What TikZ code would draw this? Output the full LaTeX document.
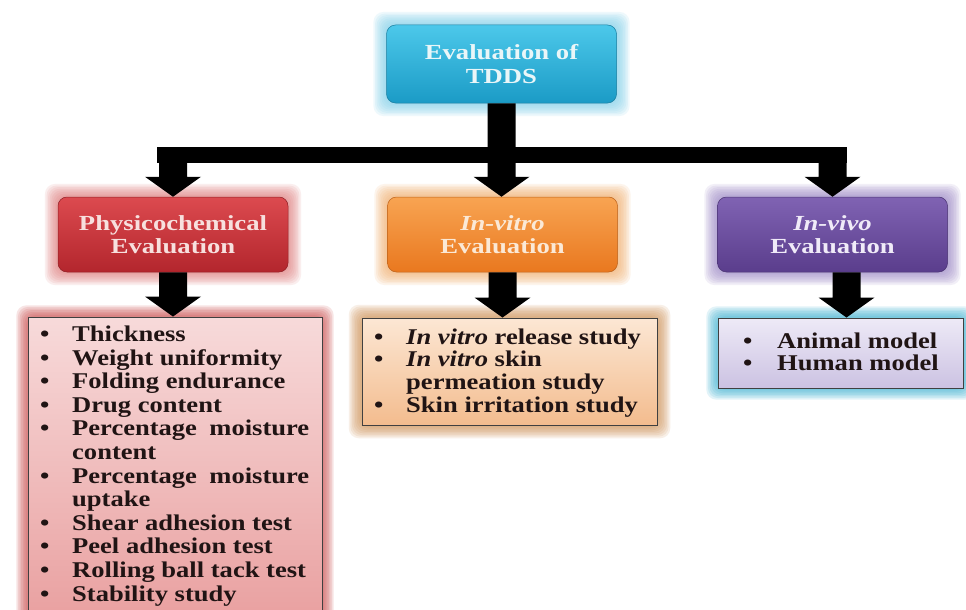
\documentclass[tikz,border=0pt]{standalone}
\usepackage{fontspec}
\setmainfont{Liberation Serif}
\newfontfamily\hfont[FakeStretch=1.24]{Liberation Serif}
\newfontfamily\lfont[FakeStretch=1.18]{Liberation Serif}
\usetikzlibrary{calc}
\pgfdeclarelayer{bgwhite}
\pgfdeclarelayer{glowlayer}
\pgfsetlayers{bgwhite,glowlayer,main}

\definecolor{cyanT}{HTML}{4CC8EA}
\definecolor{cyanB}{HTML}{1B9BC6}
\definecolor{cyanG}{HTML}{7FD0EA}
\definecolor{cyanX}{HTML}{EAF6F8}
\definecolor{redT}{HTML}{DC4A4F}
\definecolor{redB}{HTML}{B3262D}
\definecolor{redG}{HTML}{E07C7C}
\definecolor{redX}{HTML}{F7E0DE}
\definecolor{oraT}{HTML}{F8A452}
\definecolor{oraB}{HTML}{E9781F}
\definecolor{oraG}{HTML}{F2AE6C}
\definecolor{oraX}{HTML}{FBE9D6}
\definecolor{purT}{HTML}{8063B3}
\definecolor{purB}{HTML}{5A3D8C}
\definecolor{purG}{HTML}{9C86C6}
\definecolor{purX}{HTML}{F0EBF8}
\definecolor{l1T}{HTML}{F7DADA}
\definecolor{l1B}{HTML}{E9A0A0}
\definecolor{l1G}{HTML}{CC4E4E}
\definecolor{l2T}{HTML}{FCE7D4}
\definecolor{l2B}{HTML}{F3BC8E}
\definecolor{l2G}{HTML}{D0945A}
\definecolor{l3T}{HTML}{EEEAF7}
\definecolor{l3B}{HTML}{CBC2E2}
\definecolor{l3G}{HTML}{3FB2D2}
\definecolor{listtext}{HTML}{201414}

\tikzset{
  hbox/.style={rounded corners=9pt, minimum width=230pt, minimum height=75pt,
    align=center, inner sep=0pt,
    font=\hfont\bfseries\fontsize{21.5}{23}\selectfont},
  lbox/.style={draw=black!75, line width=0.9pt, inner sep=0pt},
  li/.style={anchor=base west, inner sep=0pt, text=listtext,
    font=\lfont\bfseries\fontsize{22.5}{23}\selectfont},
  arrowfill/.style={fill=black},
}

\newcommand\glow[4]{%
  \begin{pgfonlayer}{glowlayer}
  \foreach \k in {1,...,#3}{
    \fill[#2, opacity=#4, rounded corners=10pt]
      ($(#1.south west)+(-\k*1.6,\k*1.6)$) rectangle ($(#1.north east)+(\k*1.6,-\k*1.6)$);
  }
  \end{pgfonlayer}}

\newcommand\barrow[2]{%
  \fill[arrowfill] let \p1=(#1), \p2=(#2) in
    (\x1-14pt,\y1) -- (\x1+14pt,\y1) -- (\x1+14pt,\y2+20pt) -- (\x1+28pt,\y2+20pt)
    -- (\x1,\y2) -- (\x1-28pt,\y2+20pt) -- (\x1-14pt,\y2+20pt) -- cycle;}

\newcommand\litem[4]{\node[li] (#1) at (#2,#3) {#4};}

\begin{document}
\begin{tikzpicture}[x=1pt,y=-1pt]
\useasboundingbox (0,0) rectangle (966,610);
\begin{pgfonlayer}{bgwhite}
\fill[white] (0,0) rectangle (966,610);
\end{pgfonlayer}

% header boxes
\node[hbox, top color=cyanT, bottom color=cyanB, draw=cyanB!80!black, line width=0.5pt,
      text=cyanX, minimum height=78pt, font=\hfont\bfseries\fontsize{21.5}{24}\selectfont]
      (top) at (501.5,64) {Evaluation of\\TDDS};
\node[hbox, top color=redT, bottom color=redB, draw=redB!80!black, line width=0.5pt, text=redX]
      (pc) at (173,234.5) {Physicochemical\\Evaluation};
\node[hbox, top color=oraT, bottom color=oraB, draw=oraB!80!black, line width=0.5pt, text=oraX]
      (iv) at (502.5,234.5) {\textit{In-vitro}\\Evaluation};
\node[hbox, top color=purT, bottom color=purB, draw=purB!80!black, line width=0.5pt, text=purX]
      (pv) at (832.5,234.5) {\textit{In-vivo}\\Evaluation};

% list boxes
\node[lbox, minimum width=294pt, minimum height=303pt, top color=l1T, bottom color=l1B]
      (pcl) at (175,468.5) {};
\node[lbox, minimum width=295pt, minimum height=107pt, top color=l2T, bottom color=l2B]
      (ivl) at (509.5,371.5) {};
\node[lbox, minimum width=245pt, minimum height=70pt, top color=l3T, bottom color=l3B]
      (pvl) at (840.5,353) {};

% glows
\glow{top}{cyanG}{8}{0.13}
\glow{pc}{redG}{8}{0.13}
\glow{iv}{oraG}{8}{0.13}
\glow{pv}{purG}{8}{0.13}
\glow{pcl}{l1G}{7}{0.15}
\glow{ivl}{l2G}{8}{0.14}
\glow{pvl}{l3G}{7}{0.15}

% connectors
\coordinate (j) at ($(top.south)+(0,52)$);
\fill[arrowfill] let \p1=(pc.north), \p2=(pv.north), \p3=(j) in
  (\x1-16pt,\y3+8pt) rectangle (\x2+14pt,\y3-8pt);
\barrow{top.south}{iv.north}
\barrow{pc.north |- j}{pc.north}
\barrow{pv.north |- j}{pv.north}
\barrow{pc.south}{pcl.north}
\barrow{iv.south}{ivl.north}
\coordinate (a3) at ($(pv.south)+(14,0)$);
\barrow{a3}{pvl.north}

% left list
\litem{b1}{40}{341.5}{•}  \litem{t1}{72}{341.5}{Thickness}
\litem{b2}{40}{365.1}{•}  \litem{t2}{72}{365.1}{Weight uniformity}
\litem{b3}{40}{388.7}{•}  \litem{t3}{72}{388.7}{Folding endurance}
\litem{b4}{40}{412.3}{•}  \litem{t4}{72}{412.3}{Drug content}
\litem{b5}{40}{435.9}{•}  \litem{t5}{72}{435.9}{\makebox[237pt][s]{Percentage moisture}}
\litem{t6}{72}{459.5}{content}
\litem{b7}{40}{483.1}{•}  \litem{t7}{72}{483.1}{\makebox[237pt][s]{Percentage moisture}}
\litem{t8}{72}{506.7}{uptake}
\litem{b9}{40}{530.3}{•}  \litem{t9}{72}{530.3}{Shear adhesion test}
\litem{b10}{40}{553.9}{•} \litem{t10}{72}{553.9}{Peel adhesion test}
\litem{b11}{40}{577.5}{•} \litem{t11}{72}{577.5}{Rolling ball tack test}
\litem{b12}{40}{601.1}{•} \litem{t12}{72}{601.1}{Stability study}

% middle list
\litem{m1}{374}{344}{•}   \litem{n1}{406}{344}{\textit{In vitro} release study}
\litem{m2}{374}{366.7}{•} \litem{n2}{406}{366.7}{\textit{In vitro} skin}
\litem{n3}{406}{389.4}{permeation study}
\litem{m4}{374}{412.1}{•} \litem{n4}{406}{412.1}{Skin irritation study}

% right list
\litem{r1}{743}{348}{•} \litem{s1}{777}{348}{Animal model}
\litem{r2}{743}{370}{•} \litem{s2}{777}{370}{Human model}
\end{tikzpicture}
\end{document}
